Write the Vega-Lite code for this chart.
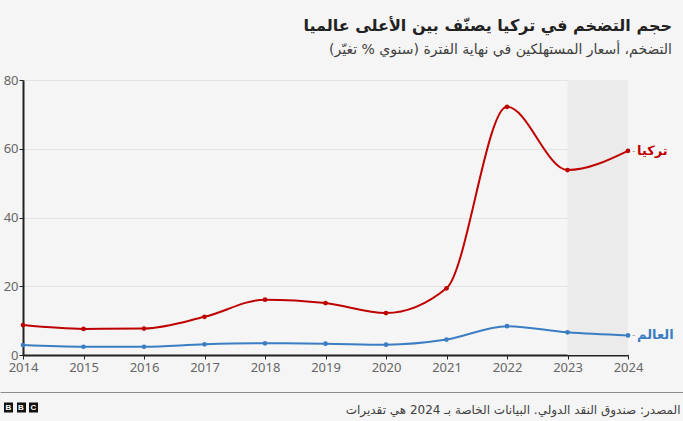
{
  "$schema": "https://vega.github.io/schema/vega-lite/v6.json",
  "width": 605,
  "height": 275,
  "autosize": {"type": "none"},
  "padding": {"left": 23, "top": 80, "right": 55, "bottom": 66},
  "background": "#f5f5f5",
  "title": {
    "text": "حجم التضخم في تركيا يصنّف بين الأعلى عالميا",
    "subtitle": "التضخم، أسعار المستهلكين في نهاية الفترة (سنوي % تغيّر)",
    "anchor": "end",
    "frame": "group",
    "orient": "top",
    "dx": 44,
    "offset": 17,
    "font": "DejaVu Sans",
    "fontSize": 16,
    "fontWeight": "bold",
    "color": "#222222",
    "subtitleFont": "DejaVu Sans",
    "subtitleFontSize": 14,
    "subtitleColor": "#404040",
    "subtitlePadding": 9
  },
  "config": {
    "view": {"stroke": null},
    "axis": {"labelFont": "Noto Sans", "titleFont": "DejaVu Sans"}
  },
  "resolve": {"scale": {"x": "independent"}, "axis": {"x": "independent"}},
  "layer": [
    {
      "data": {
        "values": [
          {"year": 2014, "series": "تركيا", "value": 8.7},
          {"year": 2015, "series": "تركيا", "value": 7.6},
          {"year": 2016, "series": "تركيا", "value": 7.7},
          {"year": 2017, "series": "تركيا", "value": 11.1},
          {"year": 2018, "series": "تركيا", "value": 16.1},
          {"year": 2019, "series": "تركيا", "value": 15.1},
          {"year": 2020, "series": "تركيا", "value": 12.2},
          {"year": 2021, "series": "تركيا", "value": 19.4},
          {"year": 2022, "series": "تركيا", "value": 72.2},
          {"year": 2023, "series": "تركيا", "value": 53.8},
          {"year": 2024, "series": "تركيا", "value": 59.4},
          {"year": 2014, "series": "العالم", "value": 2.9},
          {"year": 2015, "series": "العالم", "value": 2.4},
          {"year": 2016, "series": "العالم", "value": 2.4},
          {"year": 2017, "series": "العالم", "value": 3.1},
          {"year": 2018, "series": "العالم", "value": 3.4},
          {"year": 2019, "series": "العالم", "value": 3.3},
          {"year": 2020, "series": "العالم", "value": 3.0},
          {"year": 2021, "series": "العالم", "value": 4.5},
          {"year": 2022, "series": "العالم", "value": 8.4},
          {"year": 2023, "series": "العالم", "value": 6.6},
          {"year": 2024, "series": "العالم", "value": 5.7}
        ]
      },
      "encoding": {
        "x": {
          "field": "year",
          "type": "quantitative",
          "scale": {"domain": [2014, 2024], "nice": false, "zero": false},
          "axis": {
            "values": [2014, 2015, 2016, 2017, 2018, 2019, 2020, 2021, 2022, 2023, 2024],
            "format": "d",
            "grid": false,
            "labelColor": "#666666",
            "labelFontSize": 13,
            "labelFlush": false,
            "labelPadding": 2,
            "tickColor": "#222222",
            "tickSize": 4,
            "domainColor": "#222222",
            "domainWidth": 2,
            "title": "المصدر: صندوق النقد الدولي. البيانات الخاصة بـ 2024 هي تقديرات",
            "titleX": 657,
            "titleY": 54,
            "titleAlign": "right",
            "titleBaseline": "middle",
            "titleFontSize": 12,
            "titleFontWeight": "normal",
            "titleColor": "#404040"
          }
        },
        "y": {
          "field": "value",
          "type": "quantitative",
          "scale": {"domain": [0, 80], "nice": false},
          "axis": {
            "values": [0, 20, 40, 60, 80],
            "grid": true,
            "gridColor": "#e3e3e3",
            "labelColor": "#666666",
            "labelFontSize": 13,
            "labelPadding": 1,
            "tickColor": "#222222",
            "tickSize": 4,
            "domainColor": "#222222",
            "domainWidth": 2,
            "title": null
          }
        },
        "color": {
          "field": "series",
          "type": "nominal",
          "scale": {"domain": ["تركيا", "العالم"], "range": ["#bf0000", "#3a7dc2"]},
          "legend": null
        }
      },
      "layer": [
        {
          "data": {"values": [{"start": 2023, "end": 2024}]},
          "mark": {"type": "rect", "color": "#ebebeb"},
          "encoding": {
            "x": {"field": "start", "type": "quantitative"},
            "x2": {"field": "end"},
            "y": null,
            "color": null
          }
        },
        {
          "mark": {"type": "line", "interpolate": "monotone", "strokeWidth": 2}
        },
        {
          "mark": {"type": "point", "filled": true, "size": 22, "opacity": 1}
        },
        {
          "transform": [{"filter": "datum.year == 2024"}],
          "mark": {"type": "text", "text": "-", "dx": 4, "align": "left", "baseline": "middle", "fontSize": 10, "color": "#aaaaaa"},
          "encoding": {"color": null}
        },
        {
          "transform": [{"filter": "datum.year == 2024"}],
          "mark": {"type": "text", "dx": 9, "align": "left", "baseline": "middle", "fontSize": 13, "fontWeight": "bold", "font": "DejaVu Sans"},
          "encoding": {"text": {"field": "series"}}
        }
      ]
    },
    {
      "data": {"values": [{"f": 0}, {"f": 1}]},
      "mark": {"type": "point", "opacity": 0},
      "encoding": {
        "x": {
          "field": "f",
          "type": "quantitative",
          "scale": {"domain": [0, 1], "range": [-23, 660], "nice": false, "zero": false},
          "axis": {"orient": "bottom", "offset": 37, "domainColor": "#8c8c8c", "domainWidth": 1, "ticks": false, "labels": false, "grid": false, "title": null}
        }
      }
    },
    {
      "data": {"values": [{"p": 0, "l": "B"}, {"p": 1, "l": "B"}, {"p": 2, "l": "C"}]},
      "mark": {"type": "point", "opacity": 0},
      "encoding": {
        "x": {
          "field": "p",
          "type": "quantitative",
          "scale": {"domain": [0, 2], "range": [-15, 10], "nice": false, "zero": false},
          "axis": {
            "orient": "bottom",
            "offset": 47,
            "values": [0, 1, 2],
            "domain": false,
            "grid": false,
            "ticks": true,
            "tickColor": "#111111",
            "tickWidth": 9,
            "tickSize": 10,
            "tickCap": "butt",
            "labelExpr": "['B','B','C'][datum.value]",
            "labelColor": "#ffffff",
            "labelFont": "Liberation Sans",
            "labelFontWeight": "bold",
            "labelFontSize": 8,
            "labelBaseline": "middle",
            "labelPadding": -5,
            "labelFlush": false,
            "labelOverlap": false,
            "title": null
          }
        }
      }
    }
  ]
}
